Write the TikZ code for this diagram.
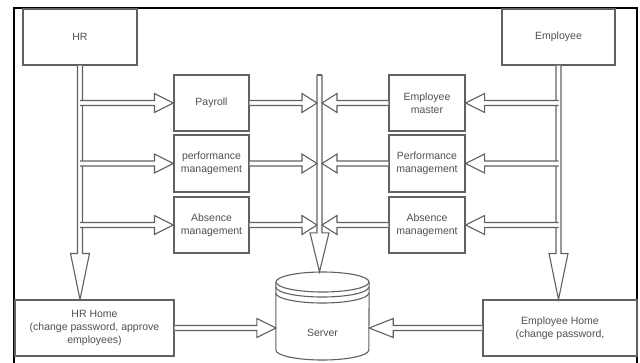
\documentclass[tikz,border=0pt]{standalone}
\usepackage{fontspec}
\setmainfont{Liberation Sans}
\usetikzlibrary{calc}
\definecolor{linec}{HTML}{616161}
\definecolor{textc}{HTML}{505050}
\tikzset{
  box/.style={draw=linec, line width=1.1pt, fill=white, inner sep=1pt, align=center,
    text=textc, font=\fontsize{10.5}{13}\selectfont},
  lbl/.style={text=textc, font=\fontsize{10.5}{13}\selectfont, inner sep=0pt},
  farrow/.style={draw=linec, line width=1.1pt, fill=white, line join=miter},
}
\newcommand\flexar[3][19]{%
  \path[farrow] let \p1=(#2), \p2=(#3), \n1={atan2(\y2-\y1,\x2-\x1)},
    \n2={veclen(\x2-\x1,\y2-\y1)} in
    [shift={(\p1)}, rotate=\n1]
    (0pt,2.5pt) -- ({(\n2-#1)*1pt},2.5pt) -- ({(\n2-#1)*1pt},9.5pt) --
    ({\n2*1pt},0pt) -- ({(\n2-#1)*1pt},-9.5pt) -- ({(\n2-#1)*1pt},-2.5pt) -- (0pt,-2.5pt);
}
\begin{document}
\begin{tikzpicture}[x=1pt,y=-1pt]
\useasboundingbox (0,0) rectangle (640,362);
\fill[white] (0,0) rectangle (640,362);
% frame
\coordinate (fbl) at (14,363);
\coordinate (ftl) at (14,8);
\coordinate (ftr) at (637,8);
\coordinate (fbr) at (637,363);
\draw[black, line width=2pt] (fbl) -- (ftl) -- (ftr) -- (fbr);

% boxes
\node[box, minimum width=114, minimum height=56] (hr) at (80,37) {HR};
\node[box, minimum width=113, minimum height=56] (emp) at (558.5,37) {Employee};
\node[box, minimum width=75, minimum height=56] (pay) at (211.5,103) {Payroll};
\node[box, minimum width=75, minimum height=57] (perl) at (211.5,163.5) {performance\\management};
\node[box, minimum width=75, minimum height=56] (absl) at (211.5,225) {Absence\\management};
\node[box, minimum width=76, minimum height=56] (emst) at (427,103) {Employee\\master};
\node[box, minimum width=76, minimum height=57] (perr) at (427,163.5) {Performance\\management};
\node[box, minimum width=76, minimum height=56] (absr) at (427,225) {Absence\\management};
\node[box, minimum width=159, minimum height=56] (hrh) at (94.5,328) {HR Home\\(change password, approve\\employees)};
\node[box, minimum width=154, minimum height=56] (eh) at (560,328) {Employee Home\\(change password,};

% server cylinder
\node[minimum width=93, minimum height=88, inner sep=0pt] (srv) at (322.5,316) {};
\draw[farrow] (srv.west |- 0,282) -- (srv.west |- 0,350)
  arc[start angle=180, end angle=0, x radius=46.5, y radius=10] -- (srv.east |- 0,282);
\draw[farrow] (322.5,282) ellipse [x radius=46.5, y radius=10];
\draw[linec, line width=1.1pt] (srv.west |- 0,287) arc[start angle=180, end angle=0, x radius=46.5, y radius=10];
\draw[linec, line width=1.1pt] (srv.west |- 0,293) arc[start angle=180, end angle=0, x radius=46.5, y radius=10];
\node[lbl] (srvlabel) at (322.5,333) {Server};

% central column
\coordinate (coltop) at (319.5,75);
\coordinate (colL) at (317,75);
\coordinate (colR) at (322,75);
\flexar[39]{coltop}{coltop |- srv.north}
\draw[linec, line width=1.1pt] (colL) -- (colR);

% HR side
\flexar[46]{hr.south}{hr.south |- hrh.north}
\flexar{hr.south |- pay.west}{pay.west}
\flexar{hr.south |- perl.west}{perl.west}
\flexar{hr.south |- absl.west}{absl.west}

% Employee side
\flexar[46]{emp.south}{emp.south |- eh.north}
\flexar{emp.south |- emst.east}{emst.east}
\flexar{emp.south |- perr.east}{perr.east}
\flexar{emp.south |- absr.east}{absr.east}

% into column
\flexar[15]{pay.east}{pay.east -| colL}
\flexar[15]{perl.east}{perl.east -| colL}
\flexar[15]{absl.east}{absl.east -| colL}
\flexar[15]{emst.west}{emst.west -| colR}
\flexar[15]{perr.west}{perr.west -| colR}
\flexar[15]{absr.west}{absr.west -| colR}

% homes to server
\flexar{hrh.east}{hrh.east -| srv.west}
\flexar[24]{eh.west}{eh.west -| srv.east}
\end{tikzpicture}
\end{document}
